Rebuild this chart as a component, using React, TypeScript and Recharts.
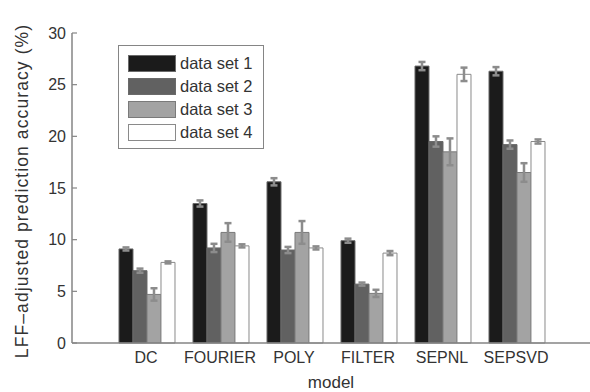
import { BarChart, Bar, XAxis, YAxis, ErrorBar, Legend } from "recharts";

const MODELS = ["DC", "FOURIER", "POLY", "FILTER", "SEPNL", "SEPSVD"];

const SET1 = [9.1, 13.5, 15.6, 9.9, 26.8, 26.3];
const SET1_ERR = [0.15, 0.3, 0.35, 0.2, 0.4, 0.4];
const SET2 = [7.0, 9.2, 9.0, 5.7, 19.5, 19.2];
const SET2_ERR = [0.2, 0.4, 0.3, 0.15, 0.5, 0.4];
const SET3 = [4.7, 10.7, 10.7, 4.8, 18.5, 16.5];
const SET3_ERR = [0.6, 0.9, 1.1, 0.35, 1.3, 0.9];
const SET4 = [7.8, 9.4, 9.2, 8.7, 26.0, 19.5];
const SET4_ERR = [0.1, 0.15, 0.15, 0.2, 0.65, 0.2];

const Y_TICKS = [0, 5, 10, 15, 20, 25, 30];

const SERIES = [
  { key: "s1", err: "e1", name: "data set 1", fill: "#1b1b1b", stroke: "#6a6a6a" },
  { key: "s2", err: "e2", name: "data set 2", fill: "#616161", stroke: "#6a6a6a" },
  { key: "s3", err: "e3", name: "data set 3", fill: "#a3a3a3", stroke: "#7a7a7a" },
  { key: "s4", err: "e4", name: "data set 4", fill: "#ffffff", stroke: "#8a8a8a" },
];

const data = MODELS.map((model, i) => ({
  model,
  s1: SET1[i],
  e1: SET1_ERR[i],
  s2: SET2[i],
  e2: SET2_ERR[i],
  s3: SET3[i],
  e3: SET3_ERR[i],
  s4: SET4[i],
  e4: SET4_ERR[i],
}));

const FONT = "'Liberation Sans', Arial, Helvetica, sans-serif";
const TEXT = "#333333";
const AXIS = "#858585";

function YTick(props: any) {
  const { x, y, payload } = props;
  return (
    <g>
      <line x1={x + 6} x2={x + 11} y1={y} y2={y} stroke={AXIS} strokeWidth={1.2} />
      <text
        x={x}
        y={y}
        dy="0.36em"
        textAnchor="end"
        fontSize={16}
        fill={TEXT}
        fontFamily={FONT}
      >
        {payload.value}
      </text>
    </g>
  );
}

function LegendBox() {
  return (
    <div
      style={{
        border: `1px solid ${AXIS}`,
        background: "#fff",
        padding: "6px 6px 4px 9px",
        fontFamily: FONT,
        fontSize: 16.5,
        color: TEXT,
        boxSizing: "border-box",
      }}
    >
      {SERIES.map((s) => (
        <div
          key={s.key}
          style={{ display: "flex", alignItems: "center", height: 23, lineHeight: "23px", whiteSpace: "nowrap" }}
        >
          <span
            style={{
              display: "inline-block",
              width: 46,
              height: 15,
              background: s.fill,
              border: `1px solid ${s.stroke}`,
              marginRight: 4,
            }}
          />
          <span>{s.name}</span>
        </div>
      ))}
    </div>
  );
}

export default function App() {
  return (
    <div style={{ position: "absolute", left: 0, top: 0, width: 590, height: 392, background: "#fff" }}>
      <BarChart
        width={590}
        height={392}
        data={data}
        margin={{ top: 33, right: 0, bottom: 19, left: 0 }}
        barCategoryGap="13.5%"
        barGap={0}
      >
        <XAxis
          dataKey="model"
          height={30}
          padding={{ left: 37, right: 37 }}
          axisLine={{ stroke: AXIS, strokeWidth: 1.5 }}
          tickLine={false}
          tickSize={6}
          tickMargin={3}
          tick={{ fontSize: 16, fill: TEXT, fontFamily: FONT }}
          interval={0}
          label={{
            content: (p: any) => {
              const vb = p.viewBox;
              return (
                <text
                  x={vb.x + vb.width / 2}
                  y={388}
                  textAnchor="middle"
                  fontSize={17}
                  fill={TEXT}
                  fontFamily={FONT}
                >
                  model
                </text>
              );
            },
          }}
        />
        <YAxis
          width={72}
          domain={[0, 30]}
          ticks={Y_TICKS}
          interval={0}
          axisLine={{ stroke: AXIS, strokeWidth: 1.5 }}
          tickLine={false}
          tickSize={0}
          tickMargin={6}
          tick={<YTick />}
          label={{
            content: (p: any) => {
              const vb = p.viewBox;
              const cy = vb.y + vb.height / 2 + 3;
              return (
                <text
                  x={28}
                  y={cy}
                  transform={`rotate(-90, 28, ${cy})`}
                  textAnchor="middle"
                  fontSize={17.5}
                  letterSpacing={1.1}
                  fill={TEXT}
                  fontFamily={FONT}
                >
                  LFF–adjusted prediction accuracy (%)
                </text>
              );
            },
          }}
        />
        <Legend
          layout="vertical"
          align="center"
          verticalAlign="middle"
          content={() => <LegendBox />}
          wrapperStyle={{ left: 118, top: 45, width: 146, height: 99 }}
        />
        {SERIES.map((s) => (
          <Bar
            key={s.key}
            dataKey={s.key}
            name={s.name}
            fill={s.fill}
            stroke={s.stroke}
            strokeWidth={1}
            isAnimationActive={false}
          >
            <ErrorBar dataKey={s.err} width={3.5} strokeWidth={2.5} stroke="#8c8c8c" />
          </Bar>
        ))}
      </BarChart>
    </div>
  );
}
